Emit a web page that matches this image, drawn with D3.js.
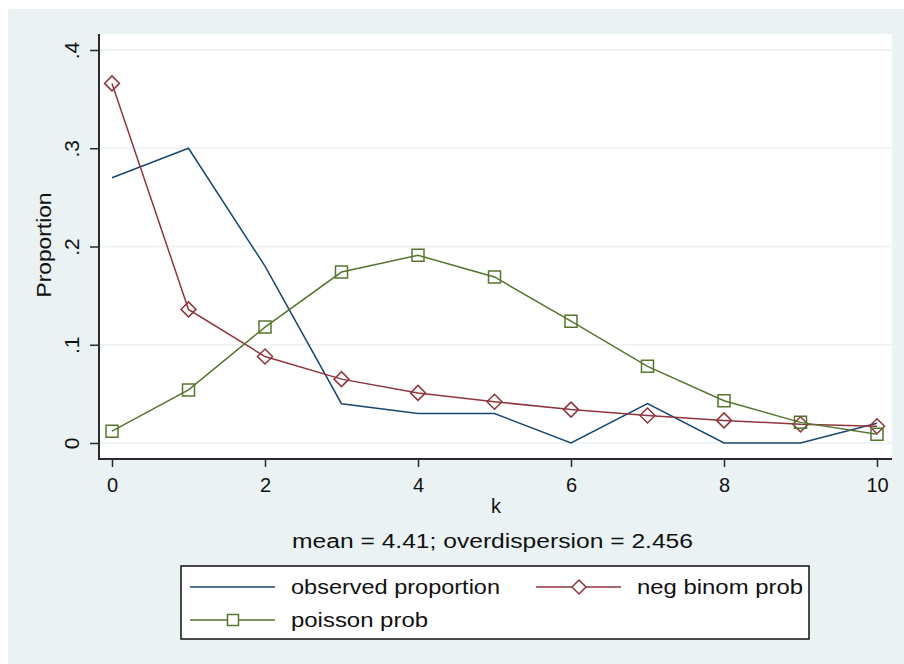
<!DOCTYPE html>
<html>
<head>
<meta charset="utf-8">
<script src="https://d3js.org/d3.v7.min.js"></script>
<style>
  body { margin: 0; background: #ffffff; }
  svg { font-family: "Liberation Sans", Arial, sans-serif; }
</style>
</head>
<body>
<svg width="904" height="664"></svg>
<script>
  // values
  var ks = [0, 1, 2, 3, 4, 5, 6, 7, 8, 9, 10];
  var observed = [0.27, 0.30, 0.18, 0.04, 0.03, 0.03, 0.0, 0.04, 0.0, 0.0, 0.02];
  var negbin = [0.366, 0.136, 0.088, 0.065, 0.051, 0.042, 0.034, 0.028, 0.023, 0.019, 0.017];
  var poisson = [0.012, 0.054, 0.118, 0.174, 0.191, 0.169, 0.124, 0.078, 0.043, 0.021, 0.009];
  var yTicks = [0, 0.1, 0.2, 0.3, 0.4];
  var yTickLabels = ["0", ".1", ".2", ".3", ".4"];
  var xTicks = [0, 2, 4, 6, 8, 10];

  var svg = d3.select("svg");

  // outer graph region
  svg.append("rect").attr("x", 8).attr("y", 9).attr("width", 896).attr("height", 655)
    .attr("fill", "#eaf2f3");

  var plot = { left: 100, top: 34, right: 892, bottom: 458 };
  svg.append("rect").attr("x", plot.left).attr("y", plot.top)
    .attr("width", plot.right - plot.left).attr("height", plot.bottom - plot.top)
    .attr("fill", "#ffffff");

  var x = d3.scaleLinear().domain([0, 10]).range([112, 877]);
  var y = d3.scaleLinear().domain([0, 0.4]).range([443, 50]);

  // grid lines
  svg.selectAll("line.grid").data(yTicks).enter().append("line")
    .attr("class", "grid")
    .attr("x1", plot.left).attr("x2", plot.right)
    .attr("y1", function(d) { return y(d); }).attr("y2", function(d) { return y(d); })
    .attr("stroke", "#eaf2f3").attr("stroke-width", 1.5);

  // y axis
  var yAxis = svg.append("g").attr("transform", "translate(" + (plot.left - 1) + ",0)")
    .call(d3.axisLeft(y).tickValues(yTicks).tickSize(9).tickPadding(0)
      .tickFormat(function(d, i) { return yTickLabels[i]; }));
  yAxis.select(".domain").attr("d", "M0," + plot.top + "V" + (plot.bottom + 1))
    .attr("stroke", "#2b2b2b").attr("stroke-width", 2);
  yAxis.selectAll(".tick line").attr("stroke", "#2b2b2b").attr("stroke-width", 1.5);
  yAxis.selectAll(".tick text")
    .attr("x", null).attr("dy", null)
    .attr("transform", "translate(-28,0) rotate(-90)")
    .attr("text-anchor", "middle").attr("dominant-baseline", "central")
    .attr("font-size", 21).attr("fill", "#111");

  // x axis
  var xAxis = svg.append("g").attr("transform", "translate(0," + (plot.bottom + 1) + ")")
    .call(d3.axisBottom(x).tickValues(xTicks).tickSize(8));
  xAxis.select(".domain").attr("d", "M" + (plot.left - 2) + ",0H" + plot.right)
    .attr("stroke", "#2b2b2b").attr("stroke-width", 2);
  xAxis.selectAll(".tick line").attr("stroke", "#2b2b2b").attr("stroke-width", 1.5);
  xAxis.selectAll(".tick text").attr("y", 26).attr("dy", null)
    .attr("dominant-baseline", "central")
    .attr("font-size", 20).attr("fill", "#111");

  // axis titles
  svg.append("text").attr("transform", "translate(44,245) rotate(-90)")
    .attr("text-anchor", "middle").attr("dominant-baseline", "central")
    .attr("font-size", 20).attr("textLength", 105).attr("lengthAdjust", "spacingAndGlyphs")
    .attr("fill", "#111").text("Proportion");
  svg.append("text").attr("x", 496).attr("y", 506)
    .attr("text-anchor", "middle").attr("dominant-baseline", "central")
    .attr("font-size", 20).attr("fill", "#111").text("k");
  svg.append("text").attr("x", 292).attr("y", 541)
    .attr("dominant-baseline", "central")
    .attr("font-size", 20).attr("textLength", 401).attr("lengthAdjust", "spacingAndGlyphs")
    .attr("fill", "#111").text("mean = 4.41; overdispersion = 2.456");

  var series = [
    { name: "observed proportion", values: observed, color: "#1a476f", marker: null },
    { name: "neg binom prob", values: negbin, color: "#90353b", marker: "diamond" },
    { name: "poisson prob", values: poisson, color: "#55752f", marker: "square" }
  ];

  var line = d3.line()
    .x(function(d, i) { return x(ks[i]); })
    .y(function(d) { return y(d); });

  function markerPath(type, s) {
    if (type === "diamond") return "M0," + (-s) + "L" + s + ",0L0," + s + "L" + (-s) + ",0Z";
    return "M" + (-s) + "," + (-s) + "H" + s + "V" + s + "H" + (-s) + "Z";
  }

  series.forEach(function(s) {
    svg.append("path").datum(s.values)
      .attr("d", line).attr("fill", "none")
      .attr("stroke", s.color).attr("stroke-width", 1.5);
    if (s.marker) {
      svg.selectAll(null).data(s.values).enter().append("path")
        .attr("transform", function(d, i) { return "translate(" + x(ks[i]) + "," + y(d) + ")"; })
        .attr("d", markerPath(s.marker, s.marker === "diamond" ? 7.5 : 6))
        .attr("fill", "none").attr("stroke", s.color).attr("stroke-width", 1.5);
    }
  });

  // legend
  svg.append("rect").attr("x", 181).attr("y", 566).attr("width", 628).attr("height", 73)
    .attr("fill", "#ffffff").attr("stroke", "#111").attr("stroke-width", 1.5);

  var legendPos = [
    { x: 190, y: 587, w: 209 },
    { x: 536, y: 587, w: 166 },
    { x: 190, y: 620, w: 137 }
  ];
  series.forEach(function(s, i) {
    var p = legendPos[i];
    var g = svg.append("g").attr("transform", "translate(" + p.x + "," + p.y + ")");
    g.append("line").attr("x1", 0).attr("x2", 85).attr("stroke", s.color).attr("stroke-width", 1.5);
    if (s.marker) {
      g.append("path").attr("transform", "translate(43,0)")
        .attr("d", markerPath(s.marker, s.marker === "diamond" ? 7 : 5.5))
        .attr("fill", "#ffffff").attr("stroke", s.color).attr("stroke-width", 1.5);
    }
    g.append("text").attr("x", 101).attr("dominant-baseline", "central")
      .attr("font-size", 20).attr("textLength", p.w).attr("lengthAdjust", "spacingAndGlyphs")
      .attr("fill", "#111").text(s.name);
  });
</script>
</body>
</html>
